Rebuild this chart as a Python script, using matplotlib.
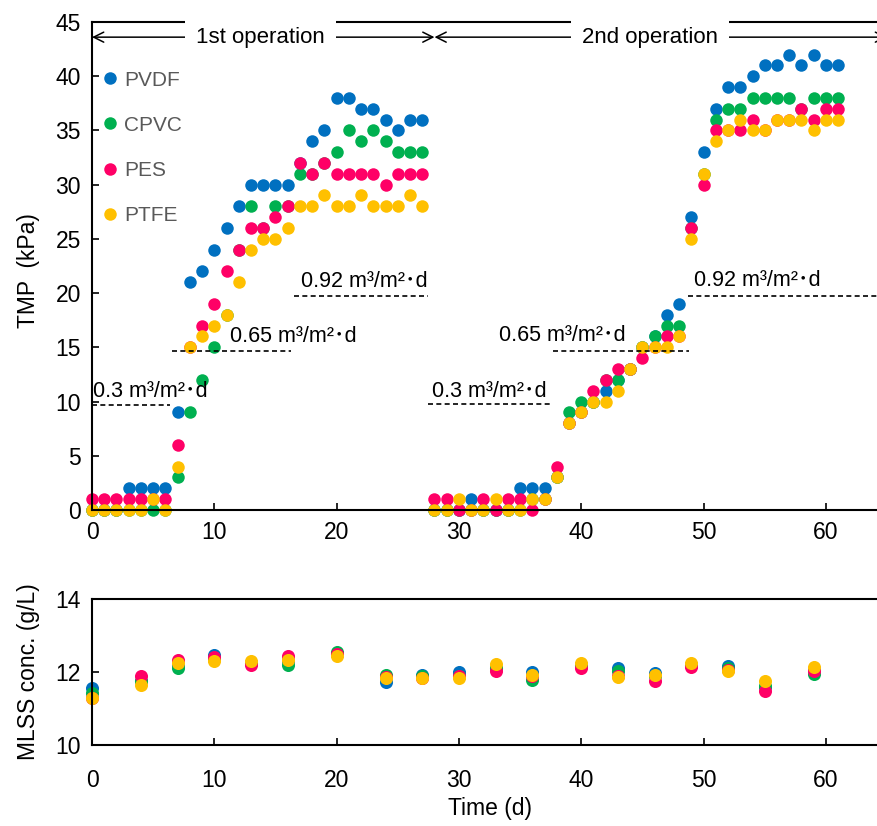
import matplotlib.pyplot as plt
import numpy as np

plt.rcParams['font.family'] = ['Liberation Sans', 'Noto Sans CJK JP', 'DejaVu Sans']
plt.rcParams['font.size'] = 15

# TMP readings, one per day (1st operation: day 0-27, 2nd operation: day 28-61)
days = np.arange(0, 62)
pvdf_tmp = [0, 0, 0, 2, 2, 2, 2, 9, 21, 22, 24, 26, 28, 30, 30, 30, 30, 32, 34, 35, 38, 38, 37, 37, 36, 35, 36, 36,
            0, 0, 0, 1, 0, 0, 0, 2, 2, 2, 3, 8, 9, 10, 11, 12, 13, 15, 16, 18, 19, 27, 33, 37, 39, 39, 40, 41, 41, 42, 41, 42, 41, 41]
cpvc_tmp = [0, 0, 0, 0, 0, 0, 0, 3, 9, 12, 15, 18, 24, 28, 26, 28, 28, 31, 31, 32, 33, 35, 34, 35, 34, 33, 33, 33,
            0, 0, 0, 0, 0, 0, 0, 0, 1, 1, 3, 9, 10, 10, 12, 12, 13, 15, 16, 17, 17, 26, 31, 36, 37, 37, 38, 38, 38, 38, 37, 38, 38, 38]
pes_tmp = [1, 1, 1, 1, 1, 1, 1, 6, 15, 17, 19, 22, 24, 26, 26, 27, 28, 32, 31, 32, 31, 31, 31, 31, 30, 31, 31, 31,
           1, 1, 0, 0, 1, 0, 1, 1, 0, 1, 4, 8, 9, 11, 12, 13, 13, 14, 15, 16, 16, 26, 30, 35, 35, 35, 36, 35, 36, 36, 37, 36, 37, 37]
ptfe_tmp = [0, 0, 0, 0, 0, 1, 0, 4, 15, 16, 17, 18, 21, 24, 25, 25, 26, 28, 28, 29, 28, 28, 29, 28, 28, 28, 29, 28,
            0, 0, 1, 0, 0, 1, 0, 0, 1, 1, 3, 8, 9, 10, 10, 11, 13, 15, 15, 15, 16, 25, 31, 34, 35, 36, 35, 35, 36, 36, 36, 35, 36, 36]

# MLSS concentration (g/L)
mlss_days = [0, 4, 7, 10, 13, 16, 20, 24, 27, 30, 33, 36, 40, 43, 46, 49, 52, 55, 59]
pvdf_mlss = [11.55, 11.75, 12.2, 12.47, 12.25, 12.3, 12.5, 11.73, 11.92, 12.0, 12.1, 12.01, 12.2, 12.1, 11.98, 12.2, 12.16, 11.6, 12.05]
cpvc_mlss = [11.42, 11.75, 12.1, 12.35, 12.25, 12.19, 12.56, 11.92, 11.88, 11.9, 12.1, 11.78, 12.2, 12.02, 11.9, 12.2, 12.1, 11.62, 11.95]
pes_mlss = [11.3, 11.89, 12.33, 12.4, 12.19, 12.44, 12.49, 11.86, 11.85, 11.9, 12.04, 11.88, 12.1, 11.9, 11.76, 12.15, 12.05, 11.49, 12.04]
ptfe_mlss = [11.28, 11.64, 12.25, 12.31, 12.31, 12.33, 12.44, 11.83, 11.83, 11.83, 12.22, 11.92, 12.25, 11.87, 11.92, 12.25, 12.04, 11.76, 12.13]

names = ['PVDF', 'CPVC', 'PES', 'PTFE']
colors = ['#0070C0', '#00B050', '#FF0066', '#FFC000']
tmp_data = [pvdf_tmp, cpvc_tmp, pes_tmp, ptfe_tmp]
mlss_data = [pvdf_mlss, cpvc_mlss, pes_mlss, ptfe_mlss]

# flux steps: (label, start day, end day, TMP level of the dashed line)
flux_lines = [('0.3 m³/m²･d', 0, 6.4, 9.7), ('0.65 m³/m²･d', 6.5, 16.3, 14.7), ('0.92 m³/m²･d', 16.5, 27.5, 19.7),
              ('0.3 m³/m²･d', 27.5, 37.6, 9.8), ('0.65 m³/m²･d', 37.7, 48.8, 14.7), ('0.92 m³/m²･d', 48.7, 65, 19.7)]
flux_text = [(0.1, 10.0), (11.3, 15.0), (17.1, 20.1), (27.8, 10.0), (33.3, 15.1), (49.2, 20.2)]

fig = plt.figure(figsize=(8.78, 8.26), dpi=100)
ax1 = fig.add_axes([0.1048, 0.3826, 0.9055, 0.5908])
ax2 = fig.add_axes([0.1048, 0.098, 0.9055, 0.1768])

for name, c, vals in zip(names, colors, tmp_data):
    ax1.plot(days, vals, 'o', color=c, markersize=9, markeredgewidth=0, label=name, clip_on=False)

for (label, x0, x1, y), (tx, ty) in zip(flux_lines, flux_text):
    ax1.plot([x0, x1], [y, y], color='black', lw=1.2, dashes=(3, 2))
    ax1.text(tx, ty, label, ha='left', va='bottom', fontsize=15.5)

# operation periods
for x0, x1, tx, label in [(0, 28, 13.8, '1st operation'), (28, 65, 45.6, '2nd operation')]:
    ax1.annotate('', xy=(x0, 43.6), xytext=(x1, 43.6),
                 arrowprops=dict(arrowstyle='<->', lw=1.1, color='black', shrinkA=0, shrinkB=0, mutation_scale=18))
    ax1.text(tx, 43.6, label, ha='center', va='center', fontsize=16,
             bbox=dict(fc='white', ec='none', pad=8))

leg = ax1.legend(loc='upper left', bbox_to_anchor=(-0.004, 0.93), frameon=False, labelcolor='#595959',
                 handlelength=0.6, handletextpad=0.4, labelspacing=1.25, borderaxespad=0.3, fontsize=15)

ax1.set_xlim(0, 65)
ax1.set_ylim(0, 45)
ax1.set_yticks(range(0, 46, 5))
ax1.set_xticks(range(0, 61, 10))
ax1.set_ylabel('TMP  (kPa)', fontsize=16.5)
ax1.yaxis.set_label_coords(-0.066, 0.49)

for name, c, vals in zip(names, colors, mlss_data):
    ax2.plot(mlss_days, vals, 'o', color=c, markersize=9.4, markeredgewidth=0, clip_on=False)

ax2.set_xlim(0, 65)
ax2.set_ylim(10, 14)
ax2.set_yticks([10, 12, 14])
ax2.set_xticks(range(0, 61, 10))
ax2.set_ylabel('MLSS conc. (g/L)', fontsize=16.5)
ax2.yaxis.set_label_coords(-0.066, 0.5)
ax2.set_xlabel('Time (d)', fontsize=16.5, labelpad=4)

for ax in (ax1, ax2):
    ax.tick_params(direction='in', length=5, width=1.2, labelsize=16.5, pad=8)
    for sp in ax.spines.values():
        sp.set_linewidth(1.5)
ax2.tick_params(axis='x', pad=17)

fig.savefig('out.png', dpi=100)
